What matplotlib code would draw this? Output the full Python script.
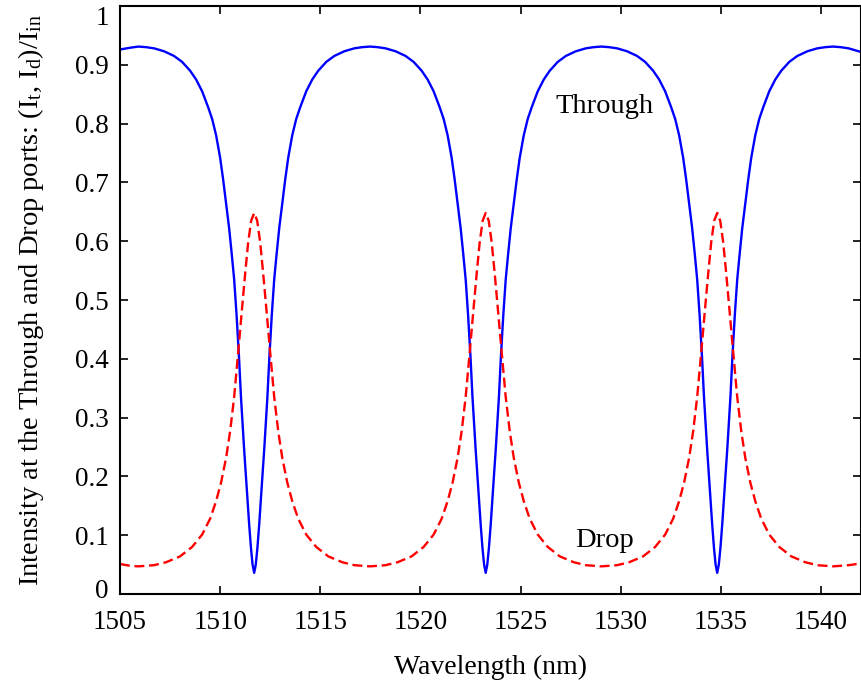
import matplotlib
matplotlib.use("Agg")
import matplotlib.pyplot as plt
from matplotlib.transforms import ScaledTranslation

plt.rcParams['font.family'] = ['Liberation Serif', 'DejaVu Serif']
plt.rcParams['mathtext.fontset'] = 'custom'
plt.rcParams['mathtext.rm'] = 'Liberation Serif'
plt.rcParams['mathtext.it'] = 'Liberation Serif:italic'

# Through port (blue, solid)
through_x = [
    1505.00, 1505.50, 1505.92, 1506.30, 1506.70, 1507.20, 1507.70, 1508.10, 1508.50, 1508.80,
    1509.10, 1509.40, 1509.60, 1509.80, 1510.00, 1510.15, 1510.30, 1510.45, 1510.58, 1510.70,
    1510.82, 1510.94, 1511.04, 1511.12, 1511.20, 1511.28, 1511.37, 1511.45, 1511.54, 1511.62,
    1511.70, 1511.78, 1511.86, 1511.95, 1512.03, 1512.12, 1512.20, 1512.28, 1512.36, 1512.46,
    1512.58, 1512.70, 1512.82, 1512.95, 1513.10, 1513.25, 1513.40, 1513.60, 1513.80, 1514.00,
    1514.30, 1514.60, 1514.90, 1515.30, 1515.70, 1516.20, 1516.70, 1517.10, 1517.48,
    1517.86, 1518.26, 1518.76, 1519.26, 1519.66, 1520.06, 1520.36, 1520.66, 1520.96, 1521.16,
    1521.36, 1521.56, 1521.71, 1521.86, 1522.01, 1522.14, 1522.26, 1522.38, 1522.50, 1522.60,
    1522.68, 1522.76, 1522.84, 1522.93, 1523.01, 1523.10, 1523.18, 1523.26, 1523.34, 1523.42,
    1523.51, 1523.59, 1523.68, 1523.76, 1523.84, 1523.92, 1524.02, 1524.14, 1524.26, 1524.38,
    1524.51, 1524.66, 1524.81, 1524.96, 1525.16, 1525.36, 1525.56, 1525.86, 1526.16, 1526.46,
    1526.86, 1527.26, 1527.76, 1528.26, 1528.66, 1529.04,
    1529.42, 1529.82, 1530.32, 1530.82, 1531.22, 1531.62, 1531.92, 1532.22, 1532.52, 1532.72,
    1532.92, 1533.12, 1533.27, 1533.42, 1533.57, 1533.70, 1533.82, 1533.94, 1534.06, 1534.16,
    1534.24, 1534.32, 1534.40, 1534.49, 1534.57, 1534.66, 1534.74, 1534.82, 1534.90, 1534.98,
    1535.07, 1535.15, 1535.24, 1535.32, 1535.40, 1535.48, 1535.58, 1535.70, 1535.82, 1535.94,
    1536.07, 1536.22, 1536.37, 1536.52, 1536.72, 1536.92, 1537.12, 1537.42, 1537.72, 1538.02,
    1538.42, 1538.82, 1539.32, 1539.82, 1540.22, 1540.60, 1540.98, 1541.38, 1541.88, 1542.00,
]
through_y = [
    0.926, 0.929, 0.931, 0.930, 0.928, 0.923, 0.915, 0.905, 0.890, 0.875,
    0.855, 0.828, 0.808, 0.780, 0.742, 0.705, 0.663, 0.622, 0.578, 0.535,
    0.475, 0.404, 0.335, 0.290, 0.245, 0.205, 0.160, 0.118, 0.078, 0.050,
    0.036, 0.050, 0.078, 0.118, 0.160, 0.205, 0.245, 0.290, 0.335, 0.404,
    0.475, 0.535, 0.578, 0.622, 0.663, 0.705, 0.742, 0.780, 0.808, 0.828,
    0.855, 0.875, 0.890, 0.905, 0.915, 0.923, 0.928, 0.930, 0.931,
    0.930, 0.928, 0.923, 0.915, 0.905, 0.890, 0.875, 0.855, 0.828, 0.808,
    0.780, 0.742, 0.705, 0.663, 0.622, 0.578, 0.535, 0.475, 0.404, 0.335,
    0.290, 0.245, 0.205, 0.160, 0.118, 0.078, 0.050, 0.036, 0.050, 0.078,
    0.118, 0.160, 0.205, 0.245, 0.290, 0.335, 0.404, 0.475, 0.535, 0.578,
    0.622, 0.663, 0.705, 0.742, 0.780, 0.808, 0.828, 0.855, 0.875, 0.890,
    0.905, 0.915, 0.923, 0.928, 0.930, 0.931,
    0.930, 0.928, 0.923, 0.915, 0.905, 0.890, 0.875, 0.855, 0.828, 0.808,
    0.780, 0.742, 0.705, 0.663, 0.622, 0.578, 0.535, 0.475, 0.404, 0.335,
    0.290, 0.245, 0.205, 0.160, 0.118, 0.078, 0.050, 0.036, 0.050, 0.078,
    0.118, 0.160, 0.205, 0.245, 0.290, 0.335, 0.404, 0.475, 0.535, 0.578,
    0.622, 0.663, 0.705, 0.742, 0.780, 0.808, 0.828, 0.855, 0.875, 0.890,
    0.905, 0.915, 0.923, 0.928, 0.930, 0.931, 0.930, 0.928, 0.923, 0.922,
]

# Drop port (red, dashed)
drop_x = [
    1505.00, 1505.50, 1505.92, 1506.70, 1507.30, 1508.00, 1508.60, 1509.10, 1509.50, 1509.80,
    1510.05, 1510.30, 1510.50, 1510.70, 1510.92, 1511.10, 1511.25, 1511.40, 1511.55, 1511.70,
    1511.85, 1512.00, 1512.15, 1512.30, 1512.48, 1512.70, 1512.90, 1513.10, 1513.35, 1513.60,
    1513.90, 1514.30, 1514.80, 1515.40, 1516.10, 1516.70, 1517.48,
    1518.26, 1518.86, 1519.56, 1520.16, 1520.66, 1521.06, 1521.36, 1521.61, 1521.86, 1522.06,
    1522.26, 1522.48, 1522.66, 1522.81, 1522.96, 1523.11, 1523.26, 1523.41, 1523.56, 1523.71,
    1523.86, 1524.04, 1524.26, 1524.46, 1524.66, 1524.91, 1525.16, 1525.46, 1525.86, 1526.36,
    1526.96, 1527.66, 1528.26, 1529.04,
    1529.82, 1530.42, 1531.12, 1531.72, 1532.22, 1532.62, 1532.92, 1533.17, 1533.42, 1533.62,
    1533.82, 1534.04, 1534.22, 1534.37, 1534.52, 1534.67, 1534.82, 1534.97, 1535.12, 1535.27,
    1535.42, 1535.60, 1535.82, 1536.02, 1536.22, 1536.47, 1536.72, 1537.02, 1537.42, 1537.92,
    1538.52, 1539.22, 1539.82, 1540.60, 1541.38, 1542.00,
]
drop_y = [
    0.051, 0.048, 0.047, 0.049, 0.054, 0.064, 0.080, 0.101, 0.128, 0.158,
    0.190, 0.232, 0.277, 0.335, 0.418, 0.488, 0.545, 0.598, 0.635, 0.648,
    0.635, 0.598, 0.545, 0.488, 0.418, 0.335, 0.277, 0.232, 0.190, 0.158,
    0.128, 0.101, 0.080, 0.064, 0.054, 0.049, 0.047,
    0.049, 0.054, 0.064, 0.080, 0.101, 0.128, 0.158, 0.190, 0.232, 0.277,
    0.335, 0.418, 0.488, 0.545, 0.598, 0.635, 0.648, 0.635, 0.598, 0.545,
    0.488, 0.418, 0.335, 0.277, 0.232, 0.190, 0.158, 0.128, 0.101, 0.080,
    0.064, 0.054, 0.049, 0.047,
    0.049, 0.054, 0.064, 0.080, 0.101, 0.128, 0.158, 0.190, 0.232, 0.277,
    0.335, 0.418, 0.488, 0.545, 0.598, 0.635, 0.648, 0.635, 0.598, 0.545,
    0.488, 0.418, 0.335, 0.277, 0.232, 0.190, 0.158, 0.128, 0.101, 0.080,
    0.064, 0.054, 0.049, 0.047, 0.049, 0.052,
]

x_ticks = [1505, 1510, 1515, 1520, 1525, 1530, 1535, 1540]
y_ticks = [0, 0.1, 0.2, 0.3, 0.4, 0.5, 0.6, 0.7, 0.8, 0.9, 1]
y_tick_labels = ['0', '0.1', '0.2', '0.3', '0.4', '0.5', '0.6', '0.7', '0.8', '0.9', '1']

W, H = 862, 691
fig = plt.figure(figsize=(W / 100, H / 100), dpi=100)
ax = fig.add_axes([120 / W, (H - 594) / H, (861 - 120) / W, (594 - 6) / H])

ax.plot(through_x, through_y, color='#0000FF', lw=1.7, solid_joinstyle='round')
ax.plot(drop_x, drop_y, color='#FF0000', lw=1.7, linestyle=(0, (4.2, 2.0)))

ax.set_xlim(1505, 1542)
ax.set_ylim(0, 1)
ax.set_xticks(x_ticks)
ax.set_xticklabels([str(t) for t in x_ticks])
ax.set_yticks(y_ticks)
ax.set_yticklabels(y_tick_labels)

ax.tick_params(direction='in', length=6, width=1.2, labelsize=19.5,
               top=True, right=True)
ax.tick_params(axis='x', pad=11.5)
ax.tick_params(axis='y', pad=8)
for s in ax.spines.values():
    s.set_linewidth(1.5)

# shift the top "1" and bottom "0" labels like the reference
ylabels = ax.get_yticklabels()
ylabels[-1].set_transform(ylabels[-1].get_transform() +
                          ScaledTranslation(0, -7 / 72, fig.dpi_scale_trans))
ylabels[0].set_transform(ylabels[0].get_transform() +
                         ScaledTranslation(0, 4 / 72, fig.dpi_scale_trans))

ax.set_xlabel('Wavelength (nm)', fontsize=20)
ax.xaxis.set_label_coords(0.5, -0.104)
ax.set_ylabel(r'Intensity at the Through and Drop ports: (I$_\mathrm{t}$, I$_\mathrm{d}$)/I$_\mathrm{in}$',
              fontsize=20.5)
ax.yaxis.set_label_coords(-0.100, 0.5)

ax.text(1526.75, 0.8186, 'Through', fontsize=20.5, ha='left', va='baseline')
ax.text(1527.71, 0.0804, 'Drop', fontsize=20.5, ha='left', va='baseline')

fig.savefig('out.png', dpi=100)
